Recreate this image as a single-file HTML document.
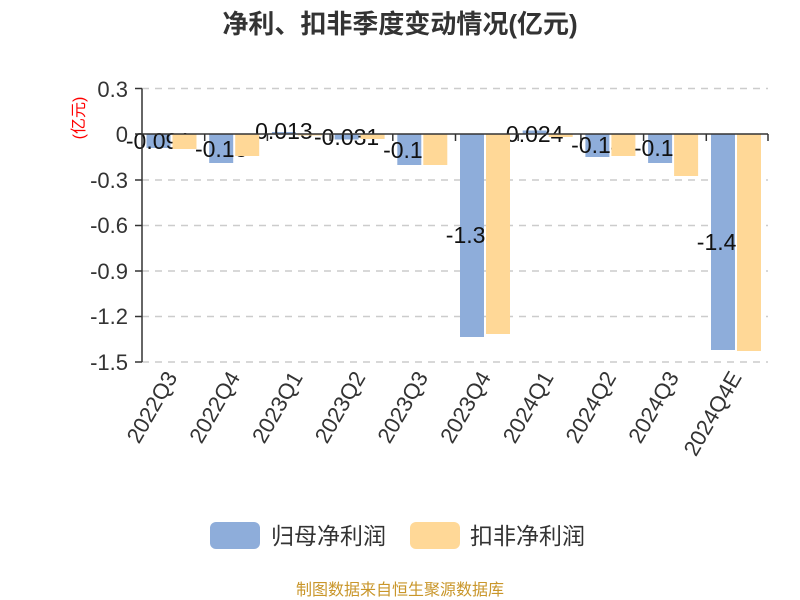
<!DOCTYPE html>
<html><head><meta charset="utf-8"><style>
html,body{margin:0;padding:0;background:#fff;}
svg{display:block;font-family:"Liberation Sans","Noto Sans CJK SC",sans-serif;}
</style></head><body>
<svg width="800" height="600" viewBox="0 0 800 600" xmlns="http://www.w3.org/2000/svg">
<text x="400" y="33" text-anchor="middle" font-size="26" font-weight="bold" fill="#333">净利、扣非季度变动情况(亿元)</text>
<g stroke="#ccc" stroke-width="1.5" stroke-dasharray="7,6">
<line x1="142" y1="88.5" x2="768" y2="88.5"/>
<line x1="142" y1="180" x2="768" y2="180"/>
<line x1="142" y1="225.5" x2="768" y2="225.5"/>
<line x1="142" y1="271" x2="768" y2="271"/>
<line x1="142" y1="316.5" x2="768" y2="316.5"/>
<line x1="142" y1="362" x2="768" y2="362"/>
</g>
<g font-size="22" fill="#333" text-anchor="end">
<text x="128" y="97">0.3</text>
<text x="128" y="142">0</text>
<text x="128" y="188">-0.3</text>
<text x="128" y="233">-0.6</text>
<text x="128" y="279">-0.9</text>
<text x="128" y="324">-1.2</text>
<text x="128" y="370">-1.5</text>
</g>
<text transform="translate(84,118) rotate(-90)" text-anchor="middle" font-size="16" fill="#f00">(亿元)</text>
<g fill="#8eadda">
<rect x="146.5" y="134" width="24" height="14"/>
<rect x="209.2" y="134" width="24" height="29"/>
<rect x="271.9" y="132" width="24" height="2"/>
<rect x="334.6" y="134" width="24" height="5.5"/>
<rect x="397.3" y="134" width="24" height="31"/>
<rect x="460" y="134" width="24" height="203"/>
<rect x="522.7" y="130.5" width="24" height="3.5"/>
<rect x="585.4" y="134" width="24" height="23"/>
<rect x="648.1" y="134" width="24" height="29"/>
<rect x="711" y="134" width="24" height="216"/>
</g>
<g font-size="23" fill="#111" text-anchor="middle">
<text x="158.5" y="149">-0.091</text>
<text x="221.2" y="157">-0.18</text>
<text x="283.9" y="139">0.013</text>
<text x="346.6" y="145">-0.031</text>
<text x="409.3" y="158">-0.19</text>
<text x="472" y="243">-1.33</text>
<text x="534.7" y="142">0.024</text>
<text x="597.4" y="153">-0.14</text>
<text x="660.1" y="156">-0.18</text>
<text x="723" y="250">-1.41</text>
</g>
<g fill="#ffd897">
<rect x="172.5" y="134" width="24" height="15"/>
<rect x="235.2" y="134" width="24" height="22"/>
<rect x="297.9" y="134" width="24" height="1.5"/>
<rect x="360.6" y="134" width="24" height="5"/>
<rect x="423.3" y="134" width="24" height="31"/>
<rect x="486" y="134" width="24" height="200"/>
<rect x="548.7" y="134" width="24" height="3"/>
<rect x="611.4" y="134" width="24" height="22"/>
<rect x="674.1" y="134" width="24" height="42"/>
<rect x="737" y="134" width="24" height="217"/>
</g>
<g stroke="#333" stroke-width="1.5" fill="none">
<line x1="142" y1="88.5" x2="142" y2="362"/>
<line x1="135" y1="88.5" x2="142" y2="88.5"/>
<line x1="135" y1="134" x2="142" y2="134"/>
<line x1="135" y1="180" x2="142" y2="180"/>
<line x1="135" y1="225.5" x2="142" y2="225.5"/>
<line x1="135" y1="271" x2="142" y2="271"/>
<line x1="135" y1="316.5" x2="142" y2="316.5"/>
<line x1="135" y1="362" x2="142" y2="362"/>
<line x1="142" y1="134" x2="768" y2="134"/>
<line x1="204.7" y1="134" x2="204.7" y2="141"/>
<line x1="267.4" y1="134" x2="267.4" y2="141"/>
<line x1="330.1" y1="134" x2="330.1" y2="141"/>
<line x1="392.8" y1="134" x2="392.8" y2="141"/>
<line x1="455.5" y1="134" x2="455.5" y2="141"/>
<line x1="518.2" y1="134" x2="518.2" y2="141"/>
<line x1="580.9" y1="134" x2="580.9" y2="141"/>
<line x1="643.6" y1="134" x2="643.6" y2="141"/>
<line x1="706.3" y1="134" x2="706.3" y2="141"/>
<line x1="768" y1="134" x2="768" y2="141"/>
</g>
<g font-size="22" fill="#333" text-anchor="end">
<text transform="translate(178,377) rotate(-60)">2022Q3</text>
<text transform="translate(240.7,377) rotate(-60)">2022Q4</text>
<text transform="translate(303.4,377) rotate(-60)">2023Q1</text>
<text transform="translate(366.1,377) rotate(-60)">2023Q2</text>
<text transform="translate(428.8,377) rotate(-60)">2023Q3</text>
<text transform="translate(491.5,377) rotate(-60)">2023Q4</text>
<text transform="translate(554.2,377) rotate(-60)">2024Q1</text>
<text transform="translate(616.9,377) rotate(-60)">2024Q2</text>
<text transform="translate(679.6,377) rotate(-60)">2024Q3</text>
<text transform="translate(742.3,377) rotate(-60)">2024Q4E</text>
</g>
<rect x="210" y="522" width="50" height="27" rx="6" fill="#8eadda"/>
<text x="271" y="544" font-size="23" fill="#333">归母净利润</text>
<rect x="410" y="522" width="50" height="27" rx="6" fill="#ffd897"/>
<text x="470" y="544" font-size="23" fill="#333">扣非净利润</text>
<text x="400" y="595" text-anchor="middle" font-size="16" fill="#c9962a">制图数据来自恒生聚源数据库</text>
</svg>
</body></html>
